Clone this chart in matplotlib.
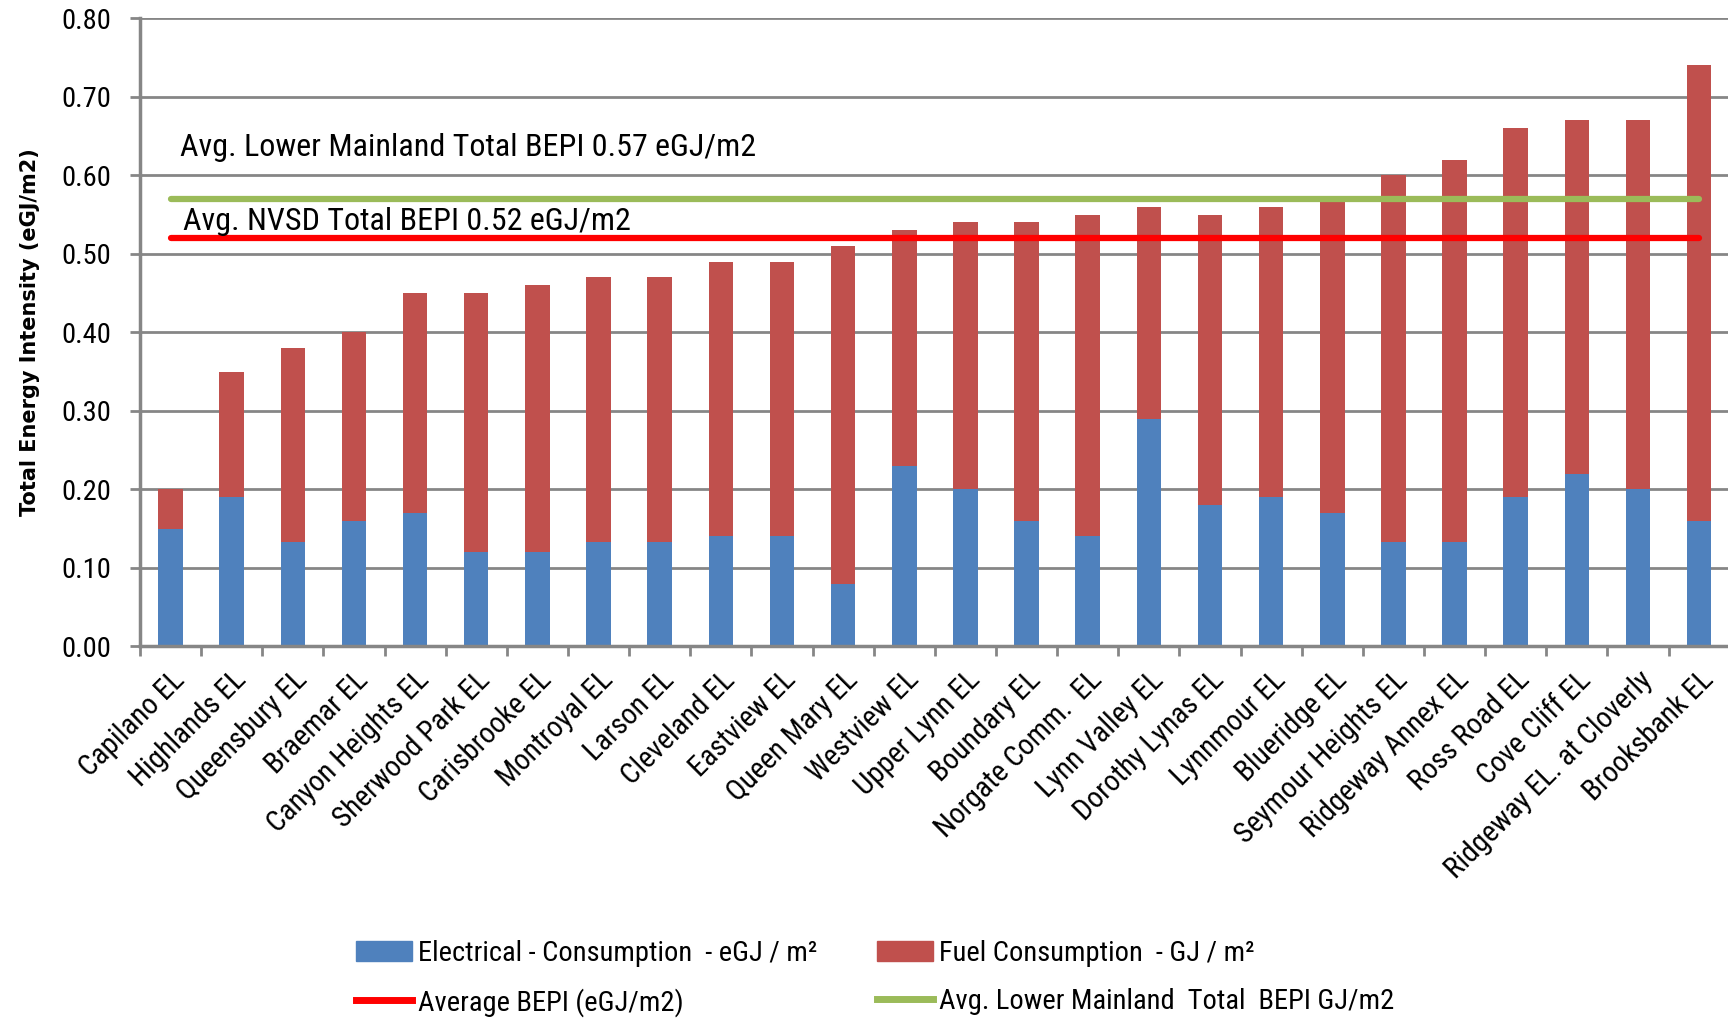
import numpy as np
import matplotlib
matplotlib.use('Agg')
import matplotlib.pyplot as plt
from matplotlib.lines import Line2D
from matplotlib.patches import Patch
from matplotlib import font_manager

schools = ['Capilano EL', 'Highlands EL', 'Queensbury EL', 'Braemar EL', 'Canyon Heights EL',
           'Sherwood Park EL', 'Carisbrooke EL', 'Montroyal EL', 'Larson EL', 'Cleveland EL',
           'Eastview EL', 'Queen Mary EL', 'Westview EL', 'Upper Lynn EL', 'Boundary EL',
           'Norgate Comm.  EL', 'Lynn Valley EL', 'Dorothy Lynas EL', 'Lynnmour EL', 'Blueridge EL',
           'Seymour Heights EL', 'Ridgeway Annex EL', 'Ross Road EL', 'Cove Cliff EL',
           'Ridgeway EL. at Cloverly', 'Brooksbank EL']
electrical = [0.15, 0.19, 0.133, 0.16, 0.17, 0.12, 0.12, 0.133, 0.133, 0.14,
              0.14, 0.08, 0.23, 0.20, 0.16, 0.14, 0.29, 0.18, 0.19, 0.17,
              0.133, 0.133, 0.19, 0.22, 0.20, 0.16]
total = [0.20, 0.35, 0.38, 0.40, 0.45, 0.45, 0.46, 0.47, 0.47, 0.49,
         0.49, 0.51, 0.53, 0.54, 0.54, 0.55, 0.56, 0.55, 0.56, 0.57,
         0.60, 0.62, 0.66, 0.67, 0.67, 0.74]
fuel = [t - e for t, e in zip(total, electrical)]
nvsd_avg = 0.52
lower_mainland_avg = 0.57

# narrow font, close to the Calibri look of the original
names = set(f.name for f in font_manager.fontManager.ttflist)
fams = [f for f in ['Liberation Sans Narrow', 'Roboto Condensed', 'Roboto']
        if f in names] + ['DejaVu Sans']
plt.rcParams['font.family'] = fams

fig = plt.figure(figsize=(17.28, 10.21), dpi=100)
ax = fig.add_axes([0.081, 0.367, 0.92, 0.615])

x = np.arange(len(schools))
blue = '#4f81bd'
red = '#c0504d'
ax.bar(x, electrical, width=0.4, color=blue, zorder=2)
ax.bar(x, fuel, width=0.4, bottom=electrical, color=red, zorder=2)

ax.plot([x[0], x[-1]], [lower_mainland_avg] * 2, color='#9bbb59', lw=4.5,
        solid_capstyle='round', zorder=3)
ax.plot([x[0], x[-1]], [nvsd_avg] * 2, color='#ff0000', lw=4.5,
        solid_capstyle='round', zorder=3)

ax.text(0.15, 0.636, 'Avg. Lower Mainland Total BEPI 0.57 eGJ/m2', fontsize=23,
        va='center', ha='left', zorder=4)
ax.text(0.2, 0.541, 'Avg. NVSD Total BEPI 0.52 eGJ/m2', fontsize=23,
        va='center', ha='left', zorder=4)

ax.set_xlim(-0.5, len(schools) - 0.5)
ax.set_ylim(0, 0.8)
ax.set_yticks(np.arange(0, 0.81, 0.1))
ax.set_yticklabels(['%.2f' % v for v in np.arange(0, 0.81, 0.1)], fontsize=20.5)
ax.yaxis.grid(True, color='#868686', lw=2, zorder=0)
ax.set_axisbelow(True)

ax.set_xticks(x)
ax.set_xticklabels(schools, rotation=45, ha='right', rotation_mode='anchor', fontsize=21)
ax.set_xticks(np.arange(-0.5, len(schools), 1), minor=True)
ax.tick_params(axis='x', which='major', length=0, pad=14)
ax.tick_params(axis='x', which='minor', length=7, width=2, color='#868686', direction='out')
ax.tick_params(axis='y', length=7, width=2, color='#868686', direction='out', pad=14)

for s in ['top', 'right']:
    ax.spines[s].set_visible(False)
for s in ['left', 'bottom']:
    ax.spines[s].set_color('#868686')
    ax.spines[s].set_linewidth(2.5)

ax.set_ylabel('Total Energy Intensity (eGJ/m2)', fontsize=15, fontweight='bold',
              family='DejaVu Sans', labelpad=15)

handles = [Patch(color=blue), Line2D([], [], color='#ff0000', lw=5),
           Patch(color=red), Line2D([], [], color='#9bbb59', lw=5)]
labels = ['Electrical - Consumption  - eGJ / m²', 'Average BEPI (eGJ/m2)',
          'Fuel Consumption  - GJ / m²', 'Avg. Lower Mainland  Total  BEPI GJ/m2']
fig.legend(handles, labels, ncol=2, loc='upper left', bbox_to_anchor=(0.198, 0.093),
           frameon=False, fontsize=20.5, handlelength=1.95, handleheight=0.7,
           handletextpad=0.22, columnspacing=2.1, labelspacing=0.72, borderpad=0)

fig.savefig('out.png', dpi=100)
